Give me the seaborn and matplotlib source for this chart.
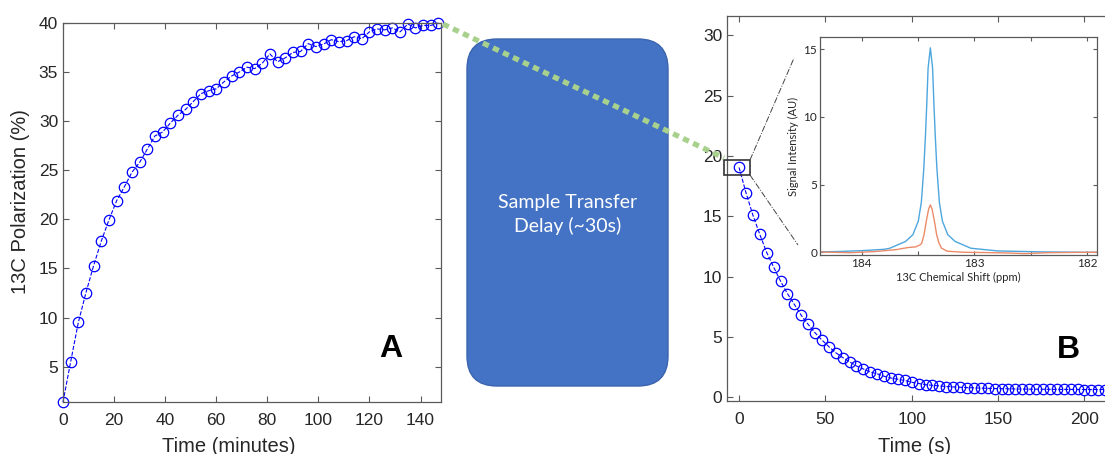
import numpy as np
import pandas as pd
import matplotlib.pyplot as plt
import seaborn as sns
from matplotlib.patches import FancyBboxPatch, Rectangle
from matplotlib.lines import Line2D

# Panel A: polarization build-up (minutes, %)
build_time = list(range(0, 148, 3))
build_pol = [1.4, 5.5, 9.5, 12.55, 15.3, 17.8, 19.95, 21.9, 23.3, 24.8,
             25.8, 27.15, 28.5, 28.9, 29.8, 30.6, 31.2, 32.0, 32.8, 33.1,
             33.3, 34.0, 34.6, 35.0, 35.5, 35.35, 35.9, 36.85, 36.05, 36.45,
             37.0, 37.1, 37.9, 37.6, 37.85, 38.3, 38.1, 38.2, 38.6, 38.4,
             39.1, 39.4, 39.3, 39.5, 39.1, 39.9, 39.5, 39.75, 39.75, 40.0]

# Panel B: decay after transfer (s, %)
decay_time = list(range(0, 213, 4))
decay_pol = [19.05, 16.95, 15.1, 13.5, 12.0, 10.8, 9.63, 8.6, 7.7, 6.8,
             6.05, 5.35, 4.75, 4.2, 3.7, 3.3, 2.95, 2.6, 2.35, 2.1,
             1.95, 1.75, 1.6, 1.5, 1.4, 1.25, 1.15, 1.05, 1.0, 0.95,
             0.9, 0.87, 0.84, 0.81, 0.79, 0.77, 0.75, 0.73, 0.72, 0.71,
             0.7, 0.69, 0.68, 0.68, 0.67, 0.67, 0.66, 0.66, 0.66, 0.66,
             0.65, 0.65, 0.65, 0.65]

# Inset spectra (ppm, AU)
ppm_blue = [184.37, 184.2, 184.0, 183.8, 183.75, 183.61, 183.545, 183.497,
            183.47, 183.448, 183.433, 183.421, 183.41, 183.39, 183.37, 183.359,
            183.347, 183.332, 183.31, 183.283, 183.235, 183.17, 183.03,
            182.79, 182.4, 182.0, 181.91]
sig_blue = [0.03, 0.06, 0.12, 0.22, 0.3, 0.8, 1.3, 2.3,
            3.7, 6.2, 8.7, 11.1, 13.6, 15.1, 13.6, 11.1,
            8.7, 6.2, 3.7, 2.3, 1.3, 0.8, 0.3,
            0.1, 0.03, 0.0, 0.0]
ppm_orange = [184.37, 184.1, 183.89, 183.69, 183.59, 183.52, 183.48, 183.467,
              183.446, 183.426, 183.405, 183.39, 183.375, 183.354, 183.334,
              183.313, 183.29, 183.24, 183.09, 182.9, 182.7, 182.55, 182.35,
              182.0, 181.91]
sig_orange = [0.02, -0.03, 0.05, 0.2, 0.35, 0.4, 0.55, 0.67,
              1.3, 2.3, 3.2, 3.5, 3.2, 2.3, 1.3,
              0.67, 0.3, 0.08, 0.0, -0.02, -0.05, -0.1, -0.03,
              0.0, 0.0]

W, H = 1105, 454
TXT = '#262626'
SPINE = '#5a5a5a'

sns.set_style("ticks")
plt.rcParams['font.family'] = ['Liberation Sans', 'DejaVu Sans']
plt.rcParams['xtick.direction'] = 'in'
plt.rcParams['ytick.direction'] = 'in'

fig = plt.figure(figsize=(W / 100, H / 100), dpi=100)


def rect(l, t, r, b):
    return [l / W, 1 - b / H, (r - l) / W, (b - t) / H]


def style(ax, size, length=4):
    for s in ax.spines.values():
        s.set_color(SPINE)
        s.set_linewidth(0.9)
    ax.tick_params(colors=SPINE, labelcolor=TXT, labelsize=size, length=length,
                   width=0.8, top=True, right=True)


line_kw = dict(color='blue', marker='o', linestyle='--', linewidth=0.8,
               markersize=7.5, markerfacecolor='none', markeredgecolor='blue',
               markeredgewidth=0.9, clip_on=False)

# ---- panel A
axA = fig.add_axes(rect(63, 23, 441, 402))
df_a = pd.DataFrame({'t': build_time, 'p': build_pol})
sns.lineplot(data=df_a, x='t', y='p', ax=axA, **line_kw)
axA.set_xlim(0, 148)
axA.set_ylim(1.4, 40)
axA.set_xticks(range(0, 141, 20))
axA.set_yticks(range(5, 41, 5))
style(axA, 12.5)
axA.tick_params(axis='x', pad=8)
axA.set_xlabel('Time (minutes)', fontsize=14.5, color=TXT)
axA.set_ylabel('13C Polarization (%)', fontsize=14.5, color=TXT)
axA.xaxis.set_label_coords(0.439, -0.092)
axA.yaxis.set_label_coords(-0.087, 0.528)
axA.text(0.866, 0.14, 'A', transform=axA.transAxes, fontsize=23,
         fontweight='bold', ha='center', va='center', color='black')

# ---- panel B
axB = fig.add_axes(rect(727, 16, 1130, 401))
df_b = pd.DataFrame({'t': decay_time, 'p': decay_pol})
sns.lineplot(data=df_b, x='t', y='p', ax=axB, **line_kw)
axB.set_xlim(-7, 226.4)
axB.set_ylim(-0.3, 31.6)
axB.set_xticks(range(0, 201, 50))
axB.set_yticks(range(0, 31, 5))
style(axB, 12.5)
axB.tick_params(axis='x', pad=8)
axB.set_xlabel('Time (s)', fontsize=14.5, color=TXT)
axB.xaxis.set_label_coords(0.4665, -0.0935)
axB.set_ylabel('')
axB.text(1068 / W, 1 - 350 / H, 'B', transform=fig.transFigure, fontsize=23,
         fontweight='bold', ha='center', va='center', color='black')

# ---- inset spectrum
axI = fig.add_axes(rect(820, 37, 1097, 255), zorder=3)
axI.set_facecolor('white')
sns.lineplot(x=ppm_blue, y=sig_blue, ax=axI, color='#4DA6DE', linewidth=1.0)
sns.lineplot(x=ppm_orange, y=sig_orange, ax=axI, color='#EC8B6A', linewidth=1.0)
axI.set_xlim(184.37, 181.91)
axI.set_ylim(-0.2, 15.9)
axI.set_xticks([184, 183.5, 183, 182.5, 182])
axI.set_xticklabels(['184', '', '183', '', '182'])
axI.set_yticks([0, 5, 10, 15])
style(axI, 8.5, length=3)
axI.tick_params(pad=2)
for lab in axI.get_xticklabels() + axI.get_yticklabels():
    lab.set_family(['Lato', 'DejaVu Sans'])
axI.set_xlabel('13C Chemical Shift (ppm)', fontsize=8, color=TXT, labelpad=2,
               family=['Lato', 'DejaVu Sans'])
axI.set_ylabel('Signal Intensity (AU)', fontsize=8, color=TXT, labelpad=3,
               family=['Lato', 'DejaVu Sans'])

# ---- overlay for the figure-level shapes
ov = fig.add_axes([0, 0, 1, 1], zorder=5)
ov.set_xlim(0, W)
ov.set_ylim(H, 0)
ov.axis('off')
ov.patch.set_alpha(0)

ov.add_patch(FancyBboxPatch((467, 39), 201, 347,
                            boxstyle='round,pad=0,rounding_size=30',
                            facecolor='#4472C4', edgecolor='#3A64AE', linewidth=1))
ov.text(568, 214.5, 'Sample Transfer\nDelay (~30s)', color='white', fontsize=14,
        ha='center', va='center', linespacing=1.4, family=['Lato', 'DejaVu Sans'])
ov.add_line(Line2D([443, 724], [24, 158], color='#A9D18E', linewidth=3.8,
                   linestyle=(0, (1.2, 0.9)), solid_capstyle='butt'))
ov.add_patch(Rectangle((724, 160), 26, 15, facecolor='none',
                       edgecolor='#333333', linewidth=1.2))
ov.add_line(Line2D([750, 794], [160, 58], color='#444444', linewidth=0.7,
                   linestyle='-.'))
ov.add_line(Line2D([750, 798], [175, 245], color='#444444', linewidth=0.7,
                   linestyle='-.'))

fig.savefig('out.png', dpi=100)
